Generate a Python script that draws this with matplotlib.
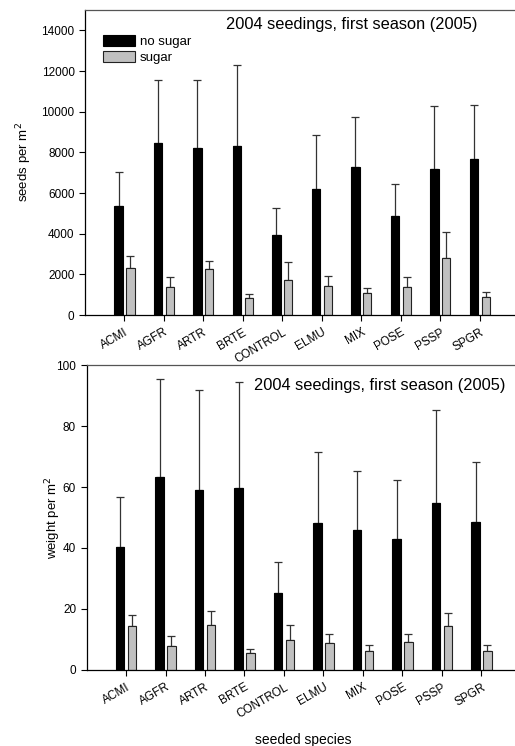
import matplotlib
matplotlib.use("Agg")
import matplotlib.pyplot as plt
import numpy as np

plt.rcParams['font.family'] = ['Liberation Sans', 'DejaVu Sans']

species = ["ACMI", "AGFR", "ARTR", "BRTE", "CONTROL", "ELMU", "MIX", "POSE", "PSSP", "SPGR"]

seeds_nosugar = [5370, 8450, 8190, 8300, 3920, 6220, 7290, 4870, 7170, 7650]
seeds_nosugar_err = [1670, 3120, 3380, 3980, 1330, 2610, 2430, 1560, 3120, 2660]
seeds_sugar = [2300, 1360, 2250, 820, 1710, 1440, 1070, 1400, 2810, 870]
seeds_sugar_err = [600, 490, 410, 210, 920, 480, 280, 450, 1290, 280]

weight_nosugar = [40.2, 63.3, 59.0, 59.6, 25.1, 48.2, 45.9, 42.8, 54.6, 48.6]
weight_nosugar_err = [16.5, 32.1, 32.9, 34.8, 10.2, 23.4, 19.5, 19.4, 30.6, 19.7]
weight_sugar = [14.3, 7.9, 14.6, 5.6, 9.7, 9.0, 6.2, 9.2, 14.3, 6.3]
weight_sugar_err = [3.8, 3.1, 4.9, 1.3, 4.9, 2.7, 2.0, 2.7, 4.5, 2.0]

title = "2004 seedings, first season (2005)"

fig = plt.figure(figsize=(5.15, 7.46), dpi=100)
ax1 = fig.add_axes([0.165, 0.5777, 1.0083 - 0.165, 0.9866 - 0.5777])
ax2 = fig.add_axes([0.168, 0.1019, 1.0115 - 0.168, 0.5107 - 0.1019])

x = np.arange(len(species))
w = 0.21
off = 0.15
grey = "#c0c0c0"
ecol = "#333333"

def draw(ax, a, aerr, b, berr, ylim, yticks, ylabel, tx, ty, legend, labx):
    ax.bar(x - off, a, width=w, color="black", edgecolor="black", linewidth=0.8, label="no sugar", zorder=2)
    ax.bar(x + off, b, width=w, color=grey, edgecolor="#222222", linewidth=0.8, label="sugar", zorder=2)
    ax.errorbar(x - off, a, yerr=[np.zeros(len(a)), aerr], fmt="none", ecolor=ecol,
                elinewidth=0.9, capsize=3, capthick=0.9, zorder=1)
    ax.errorbar(x + off, b, yerr=[np.zeros(len(b)), berr], fmt="none", ecolor=ecol,
                elinewidth=0.9, capsize=3, capthick=0.9, zorder=1)
    ax.set_xlim(-1, 10)
    ax.set_ylim(*ylim)
    ax.set_yticks(yticks)
    ax.set_xticks(x)
    ax.set_xticklabels(species, rotation=30, ha="right", rotation_mode="anchor", fontsize=8.5)
    ax.tick_params(axis="y", labelsize=8.5, direction="out", length=4, width=0.8)
    ax.tick_params(axis="x", direction="out", length=4, width=0.8, pad=4)
    ax.spines["right"].set_visible(False)
    for s in ["left", "top", "bottom"]:
        ax.spines[s].set_linewidth(0.9)
    ax.spines["top"].set_color("#555555")
    ax.set_ylabel(ylabel, fontsize=9.5)
    ax.yaxis.set_label_coords(labx, 0.5)
    ax.text(tx, ty, title, fontsize=11.8, ha="center", va="center")
    if legend:
        ax.legend(loc="upper left", bbox_to_anchor=(0.03, 0.935), frameon=False, fontsize=9.5,
                  handlelength=2.4, handleheight=0.9, handletextpad=0.35, labelspacing=0.25,
                  borderaxespad=0.0)

draw(ax1, seeds_nosugar, seeds_nosugar_err, seeds_sugar, seeds_sugar_err,
     (0, 15000), np.arange(0, 14001, 2000), "seeds per m$^2$", 5.76, 14300, True, -0.1175)
draw(ax2, weight_nosugar, weight_nosugar_err, weight_sugar, weight_sugar_err,
     (0, 100), np.arange(0, 101, 20), "weight per m$^2$", 6.43, 93.4, False, -0.054)
ax2.set_xlabel("seeded species", fontsize=10)
ax2.xaxis.set_label_coords(0.5, -0.205)

fig.savefig("out.png", dpi=100)
